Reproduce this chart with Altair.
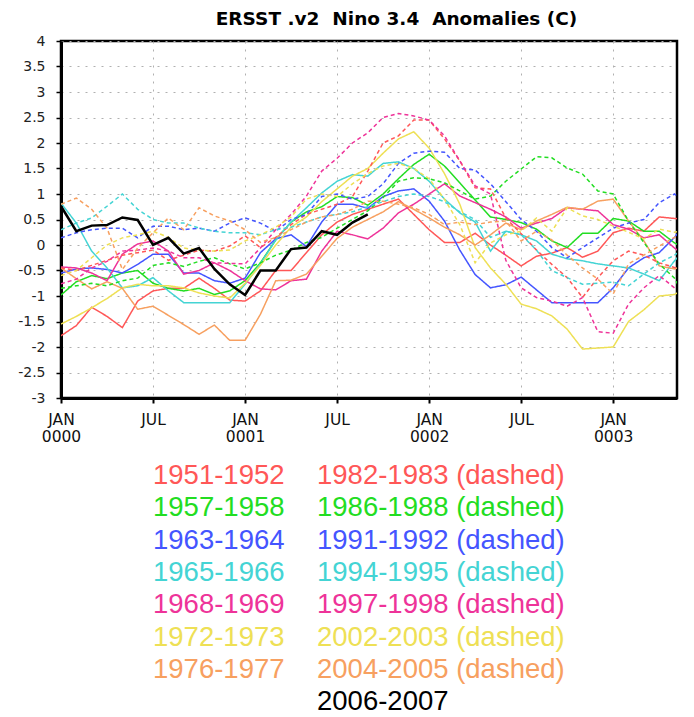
import altair as alt
import pandas as pd

months = list(range(42))
month_ticks = [0, 6, 12, 18, 24, 30, 36]
value_ticks = [-3, -2.5, -2, -1.5, -1, -0.5, 0, 0.5, 1, 1.5, 2, 2.5, 3, 3.5, 4]
title_text = ["ERSST .v2\u00a0\u00a0Nino\u00a03.4\u00a0\u00a0Anomalies\u00a0(C)"]

s1951 = [-1.78,-1.58,-1.22,-1.40,-1.62,-1.10,-0.90,-0.85,-0.85,-0.65,-0.85,-1.08,-1.10,-0.90,-0.50,-0.50,-0.15,0.20,0.45,0.60,0.70,0.80,0.90,0.60,0.30,0.05,0.05,0.23,0.00,-0.20,-0.41,-0.22,-0.16,-0.05,-0.24,-0.12,0.24,0.33,0.27,0.55,0.52,0.50]
s1957 = [-0.98,-0.72,-0.60,-0.66,-0.55,-0.50,-0.75,-0.85,-0.90,-0.85,-0.97,-0.90,-0.70,-0.35,0.10,0.45,0.65,0.75,0.95,0.93,0.78,1.00,1.30,1.58,1.78,1.55,1.22,0.88,0.55,0.50,0.44,0.31,0.08,-0.05,0.23,0.23,0.52,0.47,0.27,0.27,0.04,-0.12]
s1963 = [-0.55,-0.47,-0.45,-0.48,-0.55,-0.38,-0.18,-0.18,-0.55,-0.55,-0.70,-0.75,-0.65,-0.15,0.12,0.20,-0.03,0.45,0.80,0.80,0.72,0.95,1.06,1.10,0.86,0.47,-0.10,-0.58,-0.84,-0.78,-0.63,-0.88,-1.13,-1.13,-1.13,-1.13,-0.84,-0.45,-0.25,-0.15,0.15,0.53]
s1965 = [0.82,0.43,-0.12,-0.45,-0.84,-0.80,-0.64,-0.90,-1.13,-1.13,-1.13,-1.13,-0.77,-0.37,0.10,0.45,0.73,1.02,1.25,1.38,1.35,1.60,1.63,1.50,1.25,0.90,0.63,0.45,-0.12,0.27,0.20,0.08,-0.18,-0.27,-0.31,-0.37,-0.41,-0.45,-0.57,-0.70,-0.31,0.04]
s1968 = [-0.43,-0.45,-0.55,-0.70,-0.18,0.02,0.08,-0.12,-0.57,-0.50,-0.35,-0.50,-0.70,-0.86,-0.88,-0.70,-0.67,-0.12,0.27,0.20,0.12,0.33,0.63,0.80,1.00,1.20,0.96,0.83,0.70,0.55,0.33,0.43,0.52,0.73,0.70,0.67,0.40,0.31,0.14,0.20,-0.06,-0.28]
s1972 = [-1.55,-1.40,-1.23,-1.05,-0.84,-0.77,-0.80,-0.80,-0.84,-0.94,-1.00,-1.04,-0.75,-0.40,0.00,0.35,0.55,0.85,1.10,1.35,1.50,1.80,2.08,2.22,1.90,1.40,0.80,-0.05,-0.45,-0.77,-1.16,-1.25,-1.39,-1.65,-2.04,-2.02,-2.00,-1.50,-1.27,-1.00,-0.97,-0.80]
s1976 = [-0.45,-0.66,-0.86,-0.72,-0.85,-1.26,-1.20,-1.38,-1.56,-1.75,-1.57,-1.87,-1.87,-1.36,-0.70,-0.69,-0.57,-0.22,0.13,0.35,0.50,0.65,0.85,0.70,0.53,0.35,0.20,0.00,0.20,0.43,0.30,0.47,0.60,0.74,0.70,0.86,0.90,0.47,0.08,-0.41,-0.47,-0.35]
s1982 = [-0.45,-0.50,-0.40,-0.30,-0.20,-0.15,-0.10,-0.30,-0.20,-0.10,-0.12,-0.02,0.18,-0.05,0.15,0.40,0.60,0.70,0.80,0.95,1.45,2.00,2.14,2.45,2.45,2.08,1.65,1.12,1.10,0.53,0.22,-0.10,-0.38,-0.64,-1.03,-0.64,-0.31,-0.12,-0.20,-0.35,-0.44,-0.50]
s1986 = [-0.85,-0.80,-0.75,-0.80,-0.70,-0.65,-0.40,-0.35,-0.42,-0.32,-0.25,-0.37,-0.47,-0.35,-0.20,-0.10,0.05,0.15,0.33,0.50,0.67,0.93,1.25,1.32,1.30,1.22,1.06,0.90,0.96,1.25,1.49,1.73,1.71,1.51,1.39,1.06,1.00,0.47,0.05,-0.37,-0.65,-1.24]
s1991 = [0.14,0.24,0.30,0.33,0.33,0.14,0.37,0.37,0.30,0.33,0.27,0.43,0.53,0.43,0.27,0.50,0.60,0.95,1.00,0.90,0.95,1.20,1.60,1.80,1.84,1.82,1.50,1.47,1.20,0.85,0.50,0.27,-0.05,-0.25,-0.05,0.14,0.33,0.43,0.50,0.83,1.00,0.70]
s1994 = [0.30,0.43,0.53,0.76,1.00,0.70,0.50,0.43,0.43,0.33,0.27,0.24,0.24,0.20,0.30,0.35,0.45,0.55,0.60,0.65,0.75,0.85,0.95,1.00,0.95,0.85,0.65,0.50,0.15,0.27,0.20,-0.10,-0.50,-0.64,-0.77,-0.75,-0.73,-0.80,-0.57,-0.35,-0.20,0.02]
s1997 = [-0.76,-0.67,-0.45,-0.32,-0.12,-0.10,-0.06,-0.12,-0.25,-0.25,-0.35,-0.36,-0.37,-0.06,0.30,0.60,0.96,1.45,1.70,2.00,2.20,2.50,2.58,2.53,2.45,2.14,1.65,1.16,1.00,-0.30,-0.84,-1.03,-1.10,-1.20,-1.03,-1.70,-1.73,-1.16,-0.84,-0.60,-0.84,-0.87]
s2002 = [-0.60,-0.50,-0.25,0.00,0.14,0.20,0.27,0.15,-0.06,-0.10,-0.12,-0.10,0.08,0.20,0.35,0.55,0.90,1.00,0.95,1.20,1.40,1.55,1.60,1.50,1.30,0.90,0.40,-0.35,0.04,0.20,0.27,0.53,0.27,0.73,0.57,0.50,0.37,0.25,0.12,0.31,0.25,0.31]
s2004 = [0.80,0.92,0.70,0.33,-0.48,-0.06,0.24,0.53,0.30,0.73,0.57,0.47,0.30,0.05,0.15,0.30,0.45,0.55,0.60,0.70,0.86,0.86,0.80,0.73,0.60,0.40,0.45,0.40,0.45,0.47,0.08,0.27,0.10,-0.20,-0.45,-0.67,-0.96,-0.37,-0.20,-0.02,0.15,0.33]
s2006 = [0.76,0.27,0.38,0.39,0.54,0.49,0.00,0.14,-0.17,-0.06,-0.47,-0.77,-0.98,-0.50,-0.50,-0.08,-0.05,0.27,0.20,0.44,0.60]

solid_names = ["1951-1952", "1957-1958", "1963-1964", "1965-1966", "1968-1969", "1972-1973", "1976-1977"]
dashed_names = ["1982-1983", "1986-1988", "1991-1992", "1994-1995", "1997-1998", "2002-2003", "2004-2005"]
solid_series = [s1951, s1957, s1963, s1965, s1968, s1972, s1976]
dashed_series = [s1982, s1986, s1991, s1994, s1997, s2002, s2004]
palette = ["#FF5757", "#22DD22", "#4455FF", "#44D4D4", "#EE3399", "#EEE055", "#F7A060"]

recs = []
for name, vals in zip(solid_names, solid_series):
    for m, v in zip(months, vals):
        recs.append({"month": m, "value": v, "series": name, "style": "solid"})
for name, vals in zip(dashed_names, dashed_series):
    for m, v in zip(months, vals):
        recs.append({"month": m, "value": v, "series": name, "style": "dashed"})
df = pd.DataFrame(recs)
df_black = pd.DataFrame({"month": months[:len(s2006)], "value": s2006})
df_title = pd.DataFrame({"title": title_text})

color_scale = alt.Scale(domain=solid_names + dashed_names, range=palette + palette)

x_enc = alt.X("month:Q", scale=alt.Scale(domain=[0, 40.16], nice=False, zero=False),
              axis=alt.Axis(values=month_ticks, title=None,
                            labelExpr="datum.value % 12 == 0 ? ['JAN', '000' + floor(datum.value / 12)] : 'JUL'",
                            labelFont="DejaVu Sans", labelFontSize=15.5, labelColor="#111",
                            labelLineHeight=17, labelPadding=9, labelFlush=False, labelOverlap=False,
                            grid=True, gridDash=[2, 6], gridColor="#b0b0b0", gridWidth=1,
                            domainColor="black", domainWidth=3, tickColor="black",
                            tickSize=5, tickWidth=2))
y_enc = alt.Y("value:Q", scale=alt.Scale(domain=[-3, 4], nice=False),
              axis=alt.Axis(values=value_ticks, title=None, labelExpr="'' + datum.value",
                            labelFont="DejaVu Sans", labelFontSize=14, labelColor="#222",
                            labelPadding=11, labelFlush=False, labelOverlap=False,
                            grid=True, gridDash=[2, 6], gridColor="#b0b0b0", gridWidth=1,
                            domainColor="black", domainWidth=3, tickColor="black",
                            tickSize=5, tickWidth=1.5, minExtent=46, maxExtent=46))

lines = alt.Chart(df).mark_line(strokeWidth=1.5, clip=True).encode(
    x=x_enc, y=y_enc,
    color=alt.Color("series:N", scale=color_scale, legend=None),
    strokeDash=alt.StrokeDash("style:N", scale=alt.Scale(domain=["solid", "dashed"], range=[[1, 0], [4, 3]]), legend=None),
    detail="series:N",
)
black = alt.Chart(df_black).mark_line(strokeWidth=2.5, color="black", clip=True).encode(x=x_enc, y=y_enc)

title_mark = alt.Chart(df_title).mark_text(
    font="DejaVu Sans", fontSize=18.5, fontWeight="bold", color="black",
    align="center", baseline="middle",
).encode(x=alt.value(335.5), y=alt.value(-22.5), text="title:N")

main = alt.layer(lines, black, title_mark).properties(
    width=616, height=357,
    view=alt.ViewBackground(stroke="black", strokeWidth=2.5),
)

legend_labels = solid_names + [n + " (dashed)" for n in dashed_names] + ["2006-2007"]
legend_colors = palette + palette + ["#000000"]
legend_rows = list(range(7)) + list(range(8))
legend_cols = [0] * 7 + [1] * 8
df_leg = pd.DataFrame({"label": legend_labels, "row": legend_rows, "col": legend_cols})

legend = alt.Chart(df_leg).mark_text(align="left", baseline="middle", font="Liberation Sans",
                                     fontSize=27.5).encode(
    x=alt.X("col:Q", scale=alt.Scale(domain=[0, 1], range=[92, 256]), axis=None),
    y=alt.Y("row:Q", scale=alt.Scale(domain=[-0.5, 7.5], reverse=True), axis=None),
    text="label:N",
    color=alt.Color("label:N", scale=alt.Scale(domain=legend_labels, range=legend_colors), legend=None),
).properties(width=616, height=258.4)

chart = alt.vconcat(main, legend, spacing=14).resolve_scale(
    color="independent", x="independent", y="independent"
).properties(
    padding={"left": 5, "top": 0, "right": 0, "bottom": -2}
).configure_view(strokeWidth=0)

chart.save("out.html", embed_options={"renderer": "svg", "actions": False})
